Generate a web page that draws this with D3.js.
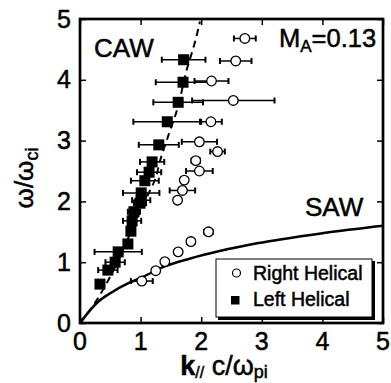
<!DOCTYPE html>
<html><head><meta charset="utf-8">
<script src="https://cdn.jsdelivr.net/npm/d3@7/dist/d3.min.js"></script>
<style>body{margin:0;background:#fff;} text{font-family:"Liberation Sans",Arial,sans-serif;fill:#000;stroke:#000;stroke-width:0.5px;}</style>
</head><body><svg id="c" width="391" height="383"></svg>
<script>
// Right helical (open circles)
const rightK   = [2.72, 2.57, 2.17, 2.53, 2.16, 1.97, 2.27, 1.91, 1.97, 1.72, 1.69, 1.61, 2.12, 1.83, 1.62, 1.40, 1.25, 1.02];
const rightW   = [4.68, 4.31, 3.98, 3.66, 3.31, 2.98, 2.82, 2.67, 2.50, 2.35, 2.18, 2.02, 1.50, 1.34, 1.17, 1.01, 0.86, 0.69];
const rightErr = [0.18, 0.26, 0.28, 0.68, 0.18, 0.29, 0.12, 0.07, 0.22, 0.00, 0.21, 0.00, 0.07, 0.06, 0.00, 0.00, 0.00, 0.18];
// Left helical (filled squares)
const leftK   = [1.71, 1.70, 1.62, 1.44, 1.30, 1.19, 1.14, 1.07, 1.01, 1.01, 0.99, 0.89, 0.86, 0.84, 0.79, 0.63, 0.58, 0.46, 0.33];
const leftW   = [4.33, 3.96, 3.63, 3.31, 2.93, 2.65, 2.48, 2.34, 2.14, 2.02, 1.97, 1.83, 1.68, 1.51, 1.30, 1.17, 1.00, 0.87, 0.64];
const leftErr = [0.36, 0.45, 0.41, 0.56, 0.33, 0.20, 0.20, 0.23, 0.30, 0.15, 0.10, 0.10, 0.15, 0.00, 0.00, 0.39, 0.16, 0.16, 0.00];
// SAW theory curve (solid)
const sawK = [0, 0.10, 0.30, 0.50, 0.79, 1.00, 1.40, 1.82, 2.92, 4.02, 5.00];
const sawW = [0, 0.13, 0.35, 0.49, 0.65, 0.74, 0.93, 1.06, 1.31, 1.48, 1.60];
// CAW theory curve (dashed)
const cawK = [0, 0.28, 0.42, 1.04, 1.16, 1.24, 1.31, 1.46, 1.60, 1.76, 1.90, 1.98];
const cawW = [0, 0.38, 0.62, 1.94, 2.19, 2.36, 2.63, 3.09, 3.50, 4.16, 4.63, 4.96];
const xTicks = [0, 1, 2, 3, 4, 5];
const yTicks = [0, 1, 2, 3, 4, 5];

const svg = d3.select("#c");
const x = d3.scaleLinear().domain([0, 5]).range([80, 383]);
const y = d3.scaleLinear().domain([0, 5]).range([323, 19]);

// curves
const line = d3.line().x(d => x(d[0])).y(d => y(d[1])).curve(d3.curveMonotoneX);
svg.append("path").datum(sawK.map((k, i) => [k, sawW[i]]))
  .attr("d", line).attr("fill", "none").attr("stroke", "#000").attr("stroke-width", 2.5);
const line2 = d3.line().x(d => x(d[0])).y(d => y(d[1])).curve(d3.curveMonotoneY);
svg.append("path").datum(cawK.map((k, i) => [k, cawW[i]]))
  .attr("d", line2).attr("fill", "none").attr("stroke", "#000").attr("stroke-width", 2)
  .attr("stroke-dasharray", "7,5");

// error bars
function errbars(K, W, E) {
  const g = svg.append("g").attr("stroke", "#000");
  K.forEach((k, i) => {
    if (E[i] <= 0) return;
    const x0 = x(k - E[i]), x1 = x(k + E[i]), yy = y(W[i]);
    g.append("line").attr("x1", x0).attr("x2", x1).attr("y1", yy).attr("y2", yy).attr("stroke-width", 1.5);
    [x0, x1].forEach(xx => g.append("line").attr("x1", xx).attr("x2", xx)
      .attr("y1", yy - 3).attr("y2", yy + 3).attr("stroke-width", 2));
  });
}
errbars(rightK, rightW, rightErr);
errbars(leftK, leftW, leftErr);

svg.append("g").selectAll("circle").data(rightK).join("circle")
  .attr("cx", (d) => x(d)).attr("cy", (d, i) => y(rightW[i])).attr("r", 4.8)
  .attr("fill", "#fff").attr("stroke", "#000").attr("stroke-width", 1.3);
const s = 11;
svg.append("g").selectAll("rect").data(leftK).join("rect")
  .attr("x", d => x(d) - s / 2).attr("y", (d, i) => y(leftW[i]) - s / 2)
  .attr("width", s).attr("height", s).attr("fill", "#000");

// axes frame with inward ticks
const tl = 6;
svg.append("g").attr("transform", "translate(0,323)")
  .call(d3.axisBottom(x).tickValues(xTicks).tickSize(-tl).tickFormat(""))
  .call(g => g.select(".domain").remove());
svg.append("g").attr("transform", "translate(0,19)")
  .call(d3.axisTop(x).tickValues(xTicks).tickSize(-tl).tickFormat(""))
  .call(g => g.select(".domain").remove());
svg.append("g").attr("transform", "translate(80,0)")
  .call(d3.axisLeft(y).tickValues(yTicks).tickSize(-tl).tickFormat(""))
  .call(g => g.select(".domain").remove());
svg.append("g").attr("transform", "translate(383,0)")
  .call(d3.axisRight(y).tickValues(yTicks).tickSize(-tl).tickFormat(""))
  .call(g => g.select(".domain").remove());
svg.selectAll(".tick line").attr("stroke", "#000").attr("stroke-width", 1.5);
svg.append("rect").attr("x", 80).attr("y", 19).attr("width", 303).attr("height", 304)
  .attr("fill", "none").attr("stroke", "#000").attr("stroke-width", 2.7);

// tick labels
svg.append("g").selectAll("text").data(xTicks).join("text")
  .attr("x", d => x(d)).attr("y", 350).attr("text-anchor", "middle")
  .attr("font-size", 25).text(d => d);
svg.append("g").selectAll("text").data(yTicks).join("text")
  .attr("x", 71).attr("y", d => y(d) + 8.5).attr("text-anchor", "end")
  .attr("font-size", 25).text(d => d);

// axis titles
const yl = svg.append("text").attr("transform", "translate(33,178) rotate(-90)")
  .attr("text-anchor", "middle").attr("font-size", 26);
yl.append("tspan").text("ω/ω");
yl.append("tspan").attr("font-size", 18).attr("dy", 5).text("ci");
const xl = svg.append("text").attr("x", 224).attr("y", 375).attr("text-anchor", "middle").attr("font-size", 27);
xl.append("tspan").attr("font-weight", "bold").text("k");
xl.append("tspan").attr("font-size", 16).attr("dy", 3).text("//");
xl.append("tspan").attr("dy", -3).text(" c/ω");
xl.append("tspan").attr("font-size", 18).attr("dy", 3).text("pi");

// annotations
svg.append("text").attr("x", 94).attr("y", 57).attr("font-size", 26).text("CAW");
svg.append("text").attr("x", 305).attr("y", 216).attr("font-size", 26).text("SAW");
const ma = svg.append("text").attr("x", 279).attr("y", 47).attr("font-size", 25.5);
ma.append("tspan").text("M");
ma.append("tspan").attr("font-size", 17).attr("dy", 5).text("A");
ma.append("tspan").attr("dy", -5).text("=0.13");

// legend
svg.append("rect").attr("x", 218).attr("y", 261).attr("width", 157).attr("height", 59).attr("fill", "#000");
svg.append("rect").attr("x", 216).attr("y", 259).attr("width", 156).attr("height", 58)
  .attr("fill", "#fff").attr("stroke", "#000").attr("stroke-width", 1);
svg.append("circle").attr("cx", 236.5).attr("cy", 273).attr("r", 4).attr("fill", "#fff").attr("stroke", "#000").attr("stroke-width", 1.2);
svg.append("rect").attr("x", 231).attr("y", 296).attr("width", 8.5).attr("height", 8.5).attr("fill", "#000");
svg.append("text").attr("x", 253).attr("y", 280).attr("font-size", 19.5).text("Right Helical");
svg.append("text").attr("x", 253).attr("y", 306).attr("font-size", 19.5).text("Left Helical");
</script></body></html>
